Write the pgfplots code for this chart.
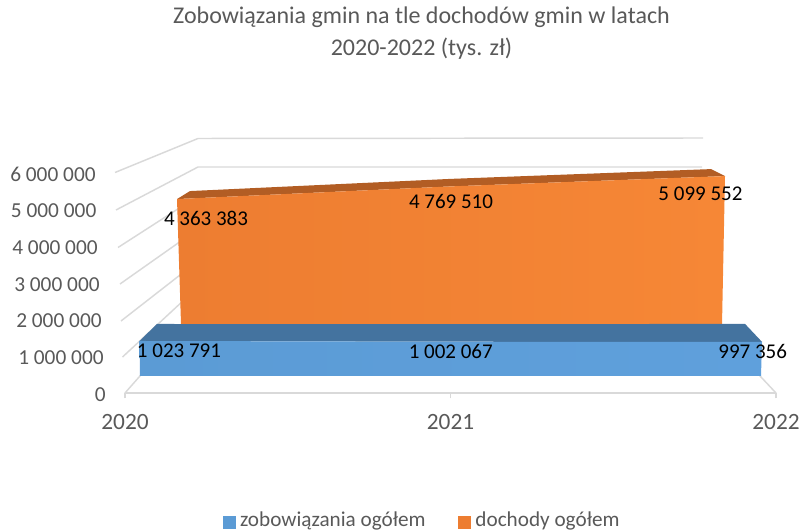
\documentclass[border=0pt]{standalone}
\usepackage{fontspec}
\setmainfont{Carlito}
\usepackage{pgfplots}
\pgfplotsset{compat=1.18}
% picture is laid out in reference pixels, 1px = 0.75pt
\definecolor{gridgray}{HTML}{D9D9D9}
\definecolor{txtgray}{HTML}{595959}
\definecolor{bluefront}{HTML}{5B9BD5}
\definecolor{bluefront2}{HTML}{5FA0DC}
\definecolor{bluetop}{HTML}{44739F}
\definecolor{orangefront}{HTML}{ED7D31}
\definecolor{orangefront2}{HTML}{F68736}
\definecolor{orangetop}{HTML}{B25D24}
\newcommand{\tickfont}{\fontsize{16pt}{18pt}\selectfont}
\newcommand{\lblfont}{\fontsize{15.75pt}{18pt}\selectfont}
\pgfplotsset{
  plane/.style={scale only axis, clip=false, hide axis, xmin=2020, xmax=2022, ymin=0, ymax=6000000},
  pixels/.style={at={(0,0)}, anchor=south west, scale only axis, width=601.5pt, height=398.25pt,
    clip=false, hide axis, xmin=0, xmax=802, ymin=0, ymax=531, y dir=reverse},
  gridseg/.style={draw=gridgray, line width=1.1pt, no markers},
}
\begin{document}
\begin{tikzpicture}
\path[use as bounding box] (0,0) rectangle (601.5pt,398.25pt);

% walls, floor and title, in pixel coordinates
\begin{axis}[
    pixels,
    title={Zobowiązania gmin na tle dochodów gmin w latach\\2020-2022 (tys. zł)},
    title style={at={(axis cs:421.5,41)}, anchor=center, align=center,
      text=txtgray, font=\fontsize{18pt}{24pt}\selectfont},
]
\addplot[gridseg] coordinates {(115,172.5) (198,138.5) (703,138)};
\addplot[gridseg] coordinates {(116,210) (198,167) (702,167)};
\addplot[gridseg] coordinates {(118,247.5) (198,196)};
\addplot[gridseg] coordinates {(120,284) (198,229)};
\addplot[gridseg] coordinates {(121,321) (198,261)};
\addplot[gridseg] coordinates {(122.5,357) (198,287)};
\addplot[gridseg] coordinates {(125,393) (198,310)};
\addplot[gridseg] coordinates {(776,393) (745,360)};
\end{axis}

% dochody, front plane of the series
\begin{axis}[plane, at={(132.75pt,146.85pt)}, anchor=south west, width=411pt, height=140.4pt]
\addplot[draw=none, fill=orangetop] coordinates {
  (2020,4363383) (2021,4769510) (2022,5099552)
  (2021.9489,5323911) (2020.998,5009895) (2020.0474,4619793)} -- cycle;
\addplot[draw=none, shade, left color=orangefront, right color=orangefront2] coordinates {
  (2020,4363383) (2021,4769510) (2022,5099552)
  (2021.9883,0) (2020.0159,0)} -- cycle;
\node[font=\lblfont] at (axis cs:2020,4363383) [xshift=21.75pt, yshift=-14.5pt] {4 363 383};
\node[font=\lblfont] at (axis cs:2021,4769510) [yshift=-11pt] {4 769 510};
\node[font=\lblfont] at (axis cs:2022,5099552) [xshift=-18.4pt, yshift=-13.5pt] {5 099 552};
\end{axis}

% zobowiązania, front plane of the series
\begin{axis}[plane, at={(104.625pt,116.25pt)}, anchor=south west, width=466.875pt, height=153.9pt]
\addplot[draw=none, fill=bluetop] coordinates {
  (2020,1023791) (2021,1002067) (2022,997356)
  (2021.9454,1523672) (2021.001,1513763) (2020.0562,1520867)} -- cycle;
\addplot[draw=none, shade, left color=bluefront, right color=bluefront2] coordinates {
  (2020,1023791) (2021,1002067) (2022,997356)
  (2021.9968,0) (2020.0016,0)} -- cycle;
\node[font=\lblfont] at (axis cs:2020,1023791) [xshift=29.6pt, yshift=-7.5pt] {1 023 791};
\node[font=\lblfont] at (axis cs:2021,1002067) [yshift=-7.5pt] {1 002 067};
\node[font=\lblfont] at (axis cs:2022,997356) [xshift=-7pt, yshift=-7.5pt] {997 356};
\end{axis}

% front axis: tick labels, floor edge
\begin{axis}[
    scale only axis, clip=false,
    at={(93.75pt,103.5pt)}, anchor=south west, width=488.25pt, height=165.375pt,
    xmin=2020, xmax=2022, ymin=0, ymax=6000000,
    axis x line=bottom, axis y line=left,
    x axis line style={draw=gridgray, line width=1.1pt, -},
    y axis line style={draw=none},
    xtick={2020,2021,2022},
    xticklabels={2020,2021,2022},
    scaled y ticks=false,
    ytick={0,1000000,2000000,3000000,4000000,5000000,6000000},
    yticklabels={0\hspace*{0pt},1 000 000\hspace*{1.5pt},2 000 000\hspace*{3pt},3 000 000\hspace*{4.5pt},4 000 000\hspace*{6pt},5 000 000\hspace*{7pt},6 000 000\hspace*{7.5pt}},
    tick align=outside, major tick length=4pt,
    xtick style={draw=gridgray, line width=1.1pt},
    ytick style={draw=none},
    tick label style={text=txtgray},
    yticklabel style={font=\tickfont, anchor=east, xshift=-7pt, yshift=-1.2pt},
    xticklabel style={font=\fontsize{17.5pt}{20pt}\selectfont, anchor=center, yshift=-18pt},
]
\end{axis}

% legend only
\begin{axis}[
    pixels,
    legend columns=2,
    legend style={at={(axis cs:422.5,520.5)}, anchor=center, draw=none, fill=none,
      text=txtgray, font=\fontsize{15.9pt}{18pt}\selectfont, inner sep=0pt,
      /tikz/every even column/.append style={column sep=22.5pt},
      /tikz/every odd column/.append style={column sep=1.5pt}},
]
\addlegendimage{legend image code/.code={\fill[bluefront] (0pt,-6pt) rectangle (9pt,3pt);}}
\addlegendentry{zobowiązania ogółem}
\addlegendimage{legend image code/.code={\fill[orangefront] (0pt,-6pt) rectangle (9pt,3pt);}}
\addlegendentry{dochody ogółem}
\end{axis}
\end{tikzpicture}
\end{document}
